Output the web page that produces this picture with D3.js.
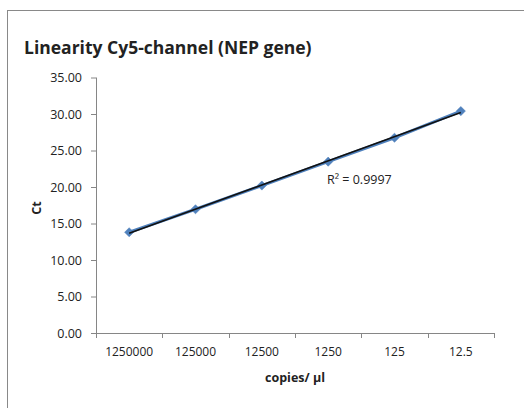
<!DOCTYPE html>
<html>
<head>
<meta charset="utf-8">
<script src="https://cdn.jsdelivr.net/npm/d3@7"></script>
<style>
  body { margin: 0; background: white; }
  text { font-family: "Open Sans", "Liberation Sans", sans-serif; fill: #222; }
</style>
</head>
<body>
<div class="chart"></div>
<script>
const categories = ['1250000', '125000', '12500', '1250', '125', '12.5'];
const ctValues = [13.8, 16.95, 20.2, 23.47, 26.75, 30.4];
const yTicks = [0, 5, 10, 15, 20, 25, 30, 35];
const r2Label = 'R² = 0.9997';

const width = 524;
const height = 408;
const margin = { left: 96, right: 30, top: 77.5, bottom: 75 };

const svg = d3
  .select('.chart')
  .append('svg')
  .attr('width', width)
  .attr('height', height);

// outer chart frame (runs off right and bottom)
svg.append('rect')
  .attr('x', 7.5).attr('y', 10.5)
  .attr('width', 530).attr('height', 410)
  .attr('fill', 'none')
  .attr('stroke', '#898989')
  .attr('stroke-width', 1);

const x = d3.scaleBand()
  .domain(categories)
  .range([margin.left, 494]);

const y = d3.scaleLinear()
  .domain([0, 35])
  .range([333, margin.top]);

// y axis
const yAxis = svg.append('g')
  .attr('transform', 'translate(' + margin.left + ',0)')
  .call(d3.axisLeft(y).tickValues(yTicks).tickFormat(d3.format('.2f')).tickSize(5).tickPadding(9));
yAxis.select('.domain').attr('stroke', '#868686').attr('d', 'M0.5,' + y(35) + 'V' + y(0));
yAxis.selectAll('.tick line').attr('stroke', '#868686');
yAxis.selectAll('.tick text').style('font-size', '12.5px').attr('fill', '#222');

// x axis
const xAxis = svg.append('g')
  .attr('transform', 'translate(0,333)')
  .call(d3.axisBottom(x).tickSize(0).tickPadding(14));
xAxis.select('.domain').attr('stroke', '#868686').attr('d', 'M' + margin.left + ',0.5H494');
xAxis.selectAll('.tick text').style('font-size', '12px').attr('fill', '#222');

// x tick marks at category boundaries
const bounds = categories.map((c) => x(c)).concat([x(categories[categories.length - 1]) + x.bandwidth()]);
svg.append('g')
  .selectAll('line')
  .data(bounds)
  .enter()
  .append('line')
  .attr('x1', (d) => Math.round(d) + 0.5)
  .attr('x2', (d) => Math.round(d) + 0.5)
  .attr('y1', 333)
  .attr('y2', 338)
  .attr('stroke', '#868686');

const cx = (d, i) => x(categories[i]) + x.bandwidth() / 2;

// series line
const line = d3.line()
  .x((d, i) => cx(d, i))
  .y((d) => y(d));

svg.append('path')
  .datum(ctValues)
  .attr('d', line)
  .attr('fill', 'none')
  .attr('stroke', '#4f81bd')
  .attr('stroke-width', 3);

// diamond markers (rotated squares)
svg.append('g')
  .selectAll('path')
  .data(ctValues)
  .enter()
  .append('path')
  .attr('d', d3.symbol().type(d3.symbolSquare).size(42))
  .attr('transform', (d, i) => 'translate(' + cx(d, i) + ',' + y(d) + ') rotate(45)')
  .attr('fill', '#4f81bd')
  .attr('stroke', '#4a7ab5')
  .attr('stroke-width', 0.5);

// linear trendline (least squares on category index)
const n = ctValues.length;
const xs = d3.range(1, n + 1);
const mx = d3.mean(xs);
const my = d3.mean(ctValues);
const slope = d3.sum(xs, (v, i) => (v - mx) * (ctValues[i] - my)) / d3.sum(xs, (v) => (v - mx) * (v - mx));
const intercept = my - slope * mx;
const trend = [1, n].map((k) => [x(categories[k - 1]) + x.bandwidth() / 2, y(intercept + slope * k)]);

svg.append('line')
  .attr('x1', trend[0][0]).attr('y1', trend[0][1])
  .attr('x2', trend[1][0]).attr('y2', trend[1][1])
  .attr('stroke', '#111')
  .attr('stroke-width', 1.6);

svg.append('text')
  .attr('x', 327)
  .attr('y', 184)
  .style('font-size', '12.5px')
  .text(r2Label);

// title
svg.append('text')
  .attr('x', 24)
  .attr('y', 54)
  .style('font-size', '17.5px')
  .style('font-weight', 'bold')
  .attr('fill', '#111')
  .text('Linearity Cy5-channel (NEP gene)');

// axis titles
svg.append('text')
  .attr('transform', 'translate(41,208) rotate(-90)')
  .attr('text-anchor', 'middle')
  .style('font-size', '12.5px')
  .style('font-weight', 'bold')
  .text('Ct');

svg.append('text')
  .attr('x', 295)
  .attr('y', 382)
  .attr('text-anchor', 'middle')
  .style('font-size', '12.5px')
  .style('font-weight', 'bold')
  .text('copies/ µl');
</script>
</body>
</html>
